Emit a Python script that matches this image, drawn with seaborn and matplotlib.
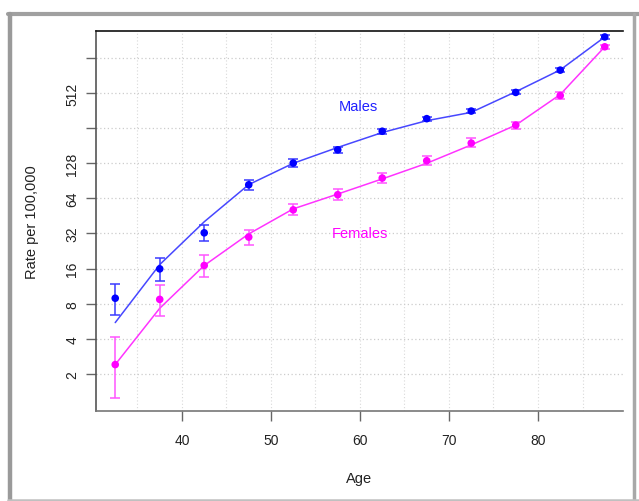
import numpy as np
import pandas as pd
import matplotlib
matplotlib.use('Agg')
import matplotlib.pyplot as plt
from matplotlib.lines import Line2D
import seaborn as sns

# values (rate per 100,000, log2 axis)
ages = [32.5, 37.5, 42.5, 47.5, 52.5, 57.5, 62.5, 67.5, 72.5, 77.5, 82.5, 87.5]
male_rate = [8.9, 15.9, 32.4, 83.7, 128.5, 167, 241, 309, 359, 519, 806, 1552]
male_lo = [6.4, 12.5, 27.5, 75.8, 118, 157, 229, 296, 345, 499, 777, 1495]
male_hi = [11.8, 19.7, 38, 92.6, 140, 178, 254, 322, 374, 540, 836, 1612]
male_fit = [5.5, 17.3, 40.3, 84, 128, 175, 235, 297, 350, 526, 810, 1552]
female_rate = [2.4, 8.7, 17, 29.8, 51, 68.8, 95.6, 134.5, 190.7, 272, 488, 1278]
female_lo = [1.24, 6.3, 13.6, 25.5, 45.8, 62, 86.6, 123.4, 176, 251, 452, 1230]
female_hi = [4.1, 11.6, 20.8, 34.4, 57.5, 76.4, 105, 146.6, 209, 292, 522, 1330]
female_fit = [2.4, 7.3, 17, 31.7, 52, 69.7, 94, 128, 184, 272, 498, 1278]
ytick_vals = [2, 4, 8, 16, 32, 64, 128, 256, 512, 1024]
ytick_labels = ['2', '4', '8', '16', '32', '64', '128', '', '512', '']
xtick_vals = [40, 50, 60, 70, 80]

sns.set_style('white')
plt.rcParams['font.family'] = ['Liberation Sans', 'DejaVu Sans']

df = pd.DataFrame({
    'age': ages * 2,
    'rate': male_rate + female_rate,
    'fit': male_fit + female_fit,
    'lo': male_lo + female_lo,
    'hi': male_hi + female_hi,
    'sex': ['Males'] * len(ages) + ['Females'] * len(ages),
})

fig = plt.figure(figsize=(6.39, 5.02), dpi=100)
ax = fig.add_axes([96 / 639, 90 / 502, 527 / 639, 380 / 502])

line_cols = {'Males': '#4747ff', 'Females': '#ff33ff'}
pt_cols = {'Males': '#0000ff', 'Females': '#ff00ff'}
bar_cols = {'Males': '#3a3aff', 'Females': '#ff55ff'}

ax.set_yscale('log', base=2)
ax.set_xlim(30.34, 89.55)
ax.set_ylim(2 ** -0.06, 2 ** 10.77)

# grid
for x in range(35, 90, 5):
    ax.axvline(x, color='#d9d9d9', lw=0.8, ls=(0, (1, 2)), zorder=0)
for y in ytick_vals:
    ax.axhline(y, color='#cccccc', lw=0.9, ls=(0, (1, 2)), zorder=0)

sns.lineplot(data=df, x='age', y='fit', hue='sex', palette=line_cols,
             lw=1.1, legend=False, ax=ax, zorder=2)
for sex, d in df.groupby('sex'):
    err = [d['rate'] - d['lo'], d['hi'] - d['rate']]
    ax.errorbar(d['age'], d['rate'], yerr=err, fmt='none', ecolor=bar_cols[sex],
                elinewidth=1.1, capsize=3.5, capthick=1.1, zorder=3)
sns.scatterplot(data=df, x='age', y='rate', hue='sex', palette=pt_cols,
                s=30, edgecolor='none', legend=False, ax=ax, zorder=4)

ax.text(59.8, 396, 'Males', color='#2020ff', fontsize=10.5, ha='center', va='center')
ax.text(60, 32.3, 'Females', color='#ff00ff', fontsize=10.5, ha='center', va='center')

ax.set_yticks(ytick_vals)
ax.set_yticklabels(ytick_labels)
ax.yaxis.set_minor_locator(matplotlib.ticker.NullLocator())
ax.set_xticks(xtick_vals)
ax.tick_params(axis='both', direction='out', length=7, width=1, color='#666666',
               labelsize=10, labelcolor='#222222', left=True, bottom=True)
ax.tick_params(axis='x', pad=9)
ax.tick_params(axis='y', pad=5, labelrotation=90)
for lab in ax.get_yticklabels():
    lab.set_va('center')

ax.set_xlabel('Age', fontsize=10.5, color='#222222')
ax.set_ylabel('Rate per 100,000', fontsize=10.5, color='#222222')
ax.xaxis.set_label_coords(0.5, -0.158)
ax.yaxis.set_label_coords(-0.108, 0.5)

ax.spines['right'].set_visible(False)
ax.spines['top'].set_color('#111111')
ax.spines['left'].set_color('#555555')
ax.spines['bottom'].set_color('#777777')
for s in ['top', 'left', 'bottom']:
    ax.spines[s].set_linewidth(1.2)

# grey frame around the figure
W, H = 639, 502
def frame_line(x0, y0, x1, y1, col, lw):
    fig.add_artist(Line2D([x0 / W, x1 / W], [1 - y0 / H, 1 - y1 / H],
                          transform=fig.transFigure, color=col, lw=lw))

frame_line(8, 15, 639, 15, '#a0a0a0', 3)
frame_line(10, 15, 10, 502, '#9a9a9a', 3.2)
frame_line(634, 15, 634, 502, '#a8a8a8', 2.5)
frame_line(8, 500.5, 639, 500.5, '#c0c0c0', 1.8)

fig.savefig('out.png', dpi=100)
